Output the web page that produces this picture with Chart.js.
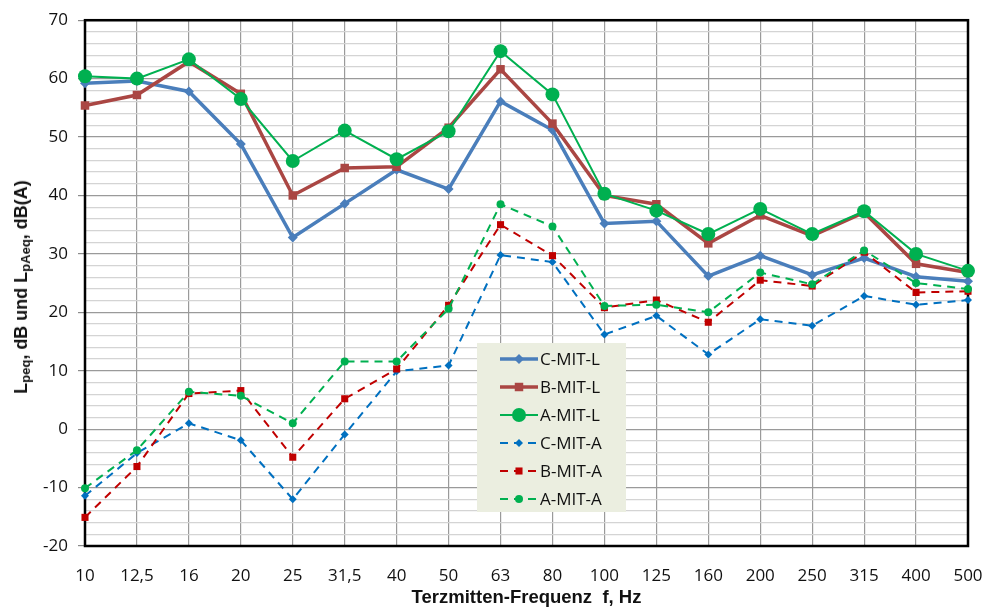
<!DOCTYPE html>
<html>
<head>
<meta charset="utf-8">
<script src="https://cdn.jsdelivr.net/npm/chart.js@4"></script>
<style>
  body { margin: 0; background: #fff; }
  #wrap { position: relative; width: 984px; height: 609px; }
  #ytitle {
    position: absolute; left: 22px; top: 287px;
    transform: translate(-50%, -50%) rotate(-90deg);
    white-space: nowrap;
    font: bold 18px "Liberation Sans", Arial, sans-serif;
    color: #111;
  }
  #ytitle sub { font-size: 13px; vertical-align: -3px; }
</style>
</head>
<body>
<div id="wrap">
  <canvas id="chart" width="984" height="609"></canvas>
  <div id="ytitle">L<sub>peq</sub>, dB und L<sub>pAeq</sub>, dB(A)</div>
</div>
<script>
// Terzmitten-Frequenzen
const frequencies = ['10', '12,5', '16', '20', '25', '31,5', '40', '50', '63', '80',
  '100', '125', '160', '200', '250', '315', '400', '500'];

const cMitL = [59.2, 59.6, 57.8, 48.8, 32.8, 38.6, 44.4, 41.1, 56.1, 51.2, 35.2, 35.6, 26.2, 29.7, 26.4, 29.3, 26.1, 25.3];
const bMitL = [55.4, 57.2, 62.9, 57.4, 40.0, 44.7, 44.9, 51.6, 61.6, 52.3, 40.0, 38.5, 31.8, 36.6, 33.1, 37.1, 28.3, 26.8];
const aMitL = [60.4, 60.0, 63.3, 56.5, 45.9, 51.1, 46.2, 51.0, 64.7, 57.3, 40.3, 37.4, 33.4, 37.7, 33.4, 37.3, 30.0, 27.1];
const cMitA = [-11.4, -4.1, 1.0, -1.9, -12.0, -0.9, 9.9, 10.9, 29.8, 28.6, 16.2, 19.4, 12.8, 18.8, 17.7, 22.8, 21.3, 22.1];
const bMitA = [-15.1, -6.4, 6.1, 6.6, -4.8, 5.2, 10.3, 21.2, 35.0, 29.7, 20.8, 22.1, 18.3, 25.5, 24.5, 30.3, 23.4, 23.6];
const aMitA = [-10.1, -3.6, 6.4, 5.7, 1.0, 11.6, 11.6, 20.6, 38.5, 34.7, 21.1, 21.3, 20.0, 26.8, 24.8, 30.6, 25.0, 24.0];

const seriesNames = ['C-MIT-L', 'B-MIT-L', 'A-MIT-L', 'C-MIT-A', 'B-MIT-A', 'A-MIT-A'];

const FONT = '"Open Sans", sans-serif';

function makeSet(label, data, color, width, dash, style, radius, order) {
  return {
    label, data,
    borderColor: color, backgroundColor: color,
    borderWidth: width, borderDash: dash,
    pointStyle: style, pointRadius: radius, pointHoverRadius: radius,
    pointBorderWidth: 0,
    tension: 0, clip: false, order
  };
}

const datasets = [
  makeSet(seriesNames[0], cMitL, '#4A7EBB', 3.5, [], 'rectRot', 5, 6),
  makeSet(seriesNames[1], bMitL, '#AA4643', 3.5, [], 'rect', 6, 5),
  makeSet(seriesNames[2], aMitL, '#00B050', 2, [], 'circle', 7, 4),
  makeSet(seriesNames[3], cMitA, '#0070C0', 2, [8, 6], 'rectRot', 4, 3),
  makeSet(seriesNames[4], bMitA, '#C00000', 2, [8, 6], 'rect', 5, 2),
  makeSet(seriesNames[5], aMitA, '#00B050', 2, [8, 6], 'circle', 4, 1)
];

// black frame round the plot area
const framePlugin = {
  id: 'frame',
  beforeDatasetsDraw(chart) {
    const { ctx, chartArea: a } = chart;
    ctx.save();
    ctx.strokeStyle = '#000';
    ctx.lineWidth = 2.5;
    ctx.strokeRect(a.left, a.top, a.right - a.left, a.bottom - a.top);
    ctx.restore();
  }
};

// legend box inside the plot, like the Excel one
const legendPlugin = {
  id: 'boxLegend',
  afterDraw(chart) {
    const { ctx } = chart;
    const x = 477, y = 343, w = 149, h = 169, rowH = 28;
    ctx.save();
    ctx.fillStyle = '#EBEEE0';
    ctx.fillRect(x, y, w, h);
    chart.data.datasets.forEach((ds, i) => {
      const cy = y + 16 + i * rowH;
      ctx.strokeStyle = ds.borderColor;
      ctx.lineWidth = ds.borderWidth;
      ctx.setLineDash(ds.borderDash);
      ctx.beginPath();
      ctx.moveTo(500, cy);
      ctx.lineTo(538, cy);
      ctx.stroke();
      ctx.setLineDash([]);
      ctx.fillStyle = ds.backgroundColor;
      Chart.helpers.drawPoint(ctx, {
        pointStyle: ds.pointStyle, radius: ds.pointRadius, borderWidth: 0
      }, 519, cy);
      ctx.fillStyle = '#111';
      ctx.font = '17px ' + FONT;
      ctx.textBaseline = 'middle';
      ctx.fillText(ds.label, 540, cy + 1);
    });
    ctx.restore();
  }
};

new Chart(document.getElementById('chart'), {
  type: 'line',
  data: { labels: frequencies, datasets },
  plugins: [framePlugin, legendPlugin],
  options: {
    responsive: false,
    animation: false,
    layout: { padding: { left: 0, right: 16, top: 20, bottom: 0 } },
    plugins: { legend: { display: false }, tooltip: { enabled: false } },
    scales: {
      x: {
        type: 'category',
        offset: false,
        border: { display: false },
        grid: { color: '#9a9a9a', lineWidth: 1.2, drawTicks: false },
        ticks: { color: '#111', font: { family: FONT, size: 17 }, padding: 20, autoSkip: false, maxRotation: 0 },
        title: {
          display: true, text: 'Terzmitten-Frequenz  f, Hz', color: '#111',
          font: { family: '"Liberation Sans", Arial, sans-serif', size: 18.5, weight: 'bold' },
          padding: { top: 0, bottom: 0 }
        },
        afterFit(scale) {
          scale.height = 63;
          scale.paddingLeft = 0;
          scale.paddingRight = 0;
        }
      },
      y: {
        min: -20, max: 70,
        border: { display: false },
        grid: {
          color: c => (c.tick && c.tick.value % 10 === 0) ? '#9a9a9a' : '#d4d4d4',
          tickColor: c => (c.tick && c.tick.value % 10 === 0) ? '#8a8a8a' : 'rgba(0,0,0,0)',
          lineWidth: 1.2,
          tickLength: 7
        },
        ticks: {
          stepSize: 2, autoSkip: false, padding: 10, color: '#111',
          font: { family: FONT, size: 17 },
          callback: v => (v % 10 === 0 ? String(v) : '')
        },
        afterFit(scale) { scale.width = 85; }
      }
    }
  }
});
</script>
</body>
</html>
